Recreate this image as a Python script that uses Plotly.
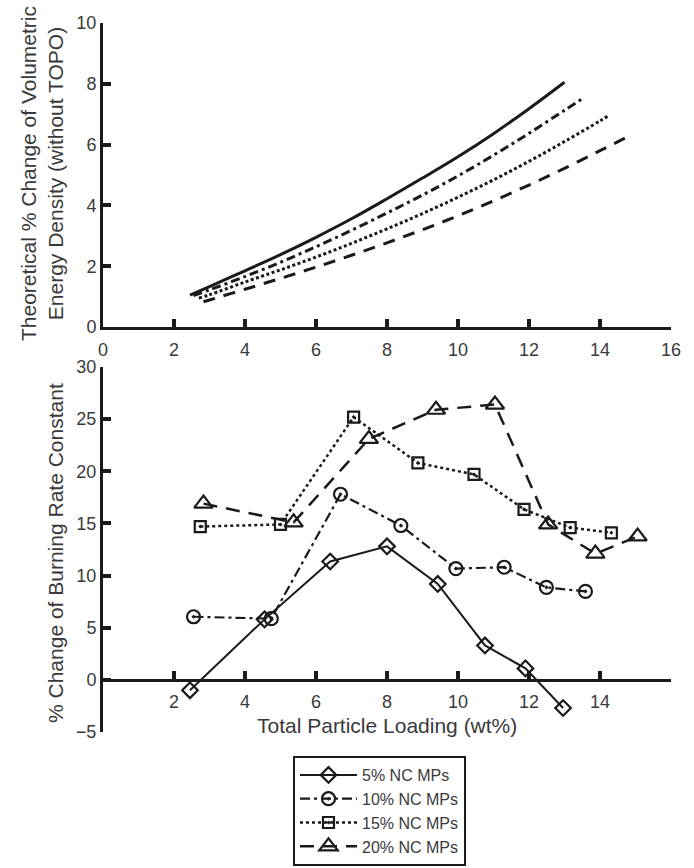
import plotly.graph_objects as go

# ---------------- data ----------------
series_names = ["5% NC MPs", "10% NC MPs", "15% NC MPs", "20% NC MPs"]

# top panel: theoretical % change of volumetric energy density
theo_x_5 = [2.45, 3, 4, 5, 6, 7, 8, 9, 10, 11, 12, 13]
theo_y_5 = [1.05, 1.33, 1.85, 2.38, 2.95, 3.56, 4.22, 4.90, 5.60, 6.36, 7.18, 8.05]
theo_x_10 = [2.55, 3, 4, 5, 6, 7, 8, 9, 10, 11, 12, 13, 13.57]
theo_y_10 = [1.03, 1.22, 1.66, 2.13, 2.64, 3.18, 3.75, 4.34, 4.97, 5.65, 6.37, 7.13, 7.56]
theo_x_15 = [2.7, 3, 4, 5, 6, 7, 8, 9, 10, 11, 12, 13, 14, 14.27]
theo_y_15 = [0.95, 1.06, 1.48, 1.88, 2.30, 2.75, 3.23, 3.73, 4.27, 4.84, 5.45, 6.10, 6.78, 6.97]
theo_x_20 = [2.83, 3, 4, 5, 6, 7, 8, 9, 10, 11, 12, 13, 14, 14.85]
theo_y_20 = [0.83, 0.89, 1.24, 1.60, 1.97, 2.36, 2.77, 3.20, 3.66, 4.15, 4.67, 5.22, 5.80, 6.30]

# bottom panel: % change of burning rate constant
load_5 = [2.45, 4.55, 6.40, 8.00, 9.43, 10.76, 11.90, 12.96]
rate_5 = [-1.0, 5.8, 11.35, 12.8, 9.2, 3.3, 1.1, -2.7]
load_10 = [2.55, 4.74, 6.69, 8.39, 9.94, 11.30, 12.49, 13.59]
rate_10 = [6.05, 5.87, 17.8, 14.8, 10.67, 10.8, 8.87, 8.48]
load_15 = [2.74, 5.00, 7.06, 8.87, 10.45, 11.86, 13.16, 14.32]
rate_15 = [14.7, 14.9, 25.2, 20.8, 19.7, 16.35, 14.6, 14.1]
load_20 = [2.83, 5.37, 7.49, 9.38, 11.04, 12.54, 13.87, 15.06]
rate_20 = [16.9, 15.1, 23.1, 25.9, 26.4, 14.9, 12.1, 13.75]

top_xticks = [0, 2, 4, 6, 8, 10, 12, 14, 16]
top_yticks = [0, 2, 4, 6, 8, 10]
bot_xticks = [2, 4, 6, 8, 10, 12, 14, 16]
bot_xticktext = ["2", "4", "6", "8", "10", "12", "14", ""]
bot_yticks = [-5, 0, 5, 10, 15, 20, 25, 30]

top_title = "Theoretical % Change of Volumetric<br>Energy Density (without TOPO)"
bot_title = "% Change of Burning Rate Constant"
x_title = "Total Particle Loading (wt%)"

# ---------------- layout geometry ----------------
W, H = 694, 868
ml, mr, mt, mb = 103, 23, 23, 136
ph = H - mt - mb
pbot = H - mb
top_dom = [(pbot - 327) / ph, 1.0]
bot_dom = [0.0, (pbot - 367) / ph]
bot_yrange = [-5, 30]
x0_pos = bot_dom[0] + (bot_dom[1] - bot_dom[0]) * (0 - bot_yrange[0]) / (bot_yrange[1] - bot_yrange[0])

FONT = "Liberation Sans, Arial, sans-serif"
AX = "#1a1a1a"
TXT = "#3a3a3a"

fig = go.Figure()

top_styles = [
    dict(dash="solid", width=3),
    dict(dash="9px,4px,3px,4px", width=3),
    dict(dash="3px,2.5px", width=3),
    dict(dash="12px,9px", width=3),
]
theo = [(theo_x_5, theo_y_5), (theo_x_10, theo_y_10), (theo_x_15, theo_y_15), (theo_x_20, theo_y_20)]
for (xs, ys), st, nm in zip(theo, top_styles, series_names):
    fig.add_trace(go.Scatter(x=xs, y=ys, mode="lines", line=dict(color=AX, shape="spline", **st),
                             showlegend=False, name=nm, xaxis="x", yaxis="y"))

bot_styles = [
    dict(line=dict(dash="solid", width=2), symbol="diamond-open", size=12),
    dict(line=dict(dash="10px,4px,3px,4px", width=2.2), symbol="circle-open-dot", size=13),
    dict(line=dict(dash="3px,3px", width=2.5), symbol="square-open-dot", size=11),
    dict(line=dict(dash="14px,9px", width=2.5), symbol="triangle-up-open", size=16),
]
meas = [(load_5, rate_5), (load_10, rate_10), (load_15, rate_15), (load_20, rate_20)]
for (xs, ys), st, nm in zip(meas, bot_styles, series_names):
    fig.add_trace(go.Scatter(
        x=xs, y=ys, mode="lines+markers", name=nm,
        line=dict(color=AX, **st["line"]),
        marker=dict(symbol=st["symbol"], size=st["size"], color=AX, line=dict(color=AX, width=2.2)),
        xaxis="x2", yaxis="y2"))

axis_common = dict(showline=True, linecolor=AX, linewidth=3, ticks="inside", ticklen=8,
                   tickwidth=3.5, tickcolor=AX, showgrid=False, zeroline=False, automargin=False,
                   tickfont=dict(family=FONT, size=18, color=TXT))

fig.update_layout(
    width=W, height=H,
    margin=dict(l=ml, r=mr, t=mt, b=mb, autoexpand=False),
    paper_bgcolor="white", plot_bgcolor="white",
    font=dict(family=FONT, color=TXT),
    xaxis=dict(domain=[0, 1], range=[0, 16], tickmode="array", tickvals=top_xticks, anchor="y",
               ticklabelstandoff=4, **axis_common),
    yaxis=dict(domain=top_dom, range=[0, 10], tickmode="array", tickvals=top_yticks, anchor="x",
               **axis_common),
    xaxis2=dict(domain=[0, 1], range=[0, 16], tickmode="array", tickvals=bot_xticks,
                ticktext=bot_xticktext, anchor="free", position=x0_pos, ticklabelstandoff=5,
                **axis_common),
    yaxis2=dict(domain=bot_dom, range=bot_yrange, tickmode="array", tickvals=bot_yticks, anchor="x2",
                **axis_common),
    legend=dict(xref="container", yref="container", x=293 / W, y=1 - 866 / H,
                xanchor="left", yanchor="bottom", bgcolor="white", bordercolor=AX, borderwidth=2,
                font=dict(family=FONT, size=16, color=TXT), itemwidth=57, tracegroupgap=0),
    annotations=[
        dict(text=top_title, xref="paper", yref="paper", x=(42 - ml) / (W - ml - mr),
             y=(pbot - 174) / ph, textangle=-90, showarrow=False, xanchor="center", yanchor="middle",
             font=dict(family=FONT, size=21, color=TXT)),
        dict(text=bot_title, xref="paper", yref="paper", x=(55 - ml) / (W - ml - mr),
             y=(pbot - 553) / ph, textangle=-90, showarrow=False, xanchor="center", yanchor="middle",
             font=dict(family=FONT, size=21, color=TXT)),
        dict(text=x_title, xref="paper", yref="paper", x=0.5, y=(pbot - 725) / ph,
             showarrow=False, xanchor="center", yanchor="middle",
             font=dict(family=FONT, size=21, color=TXT)),
    ],
)

fig.write_html("out.html")
